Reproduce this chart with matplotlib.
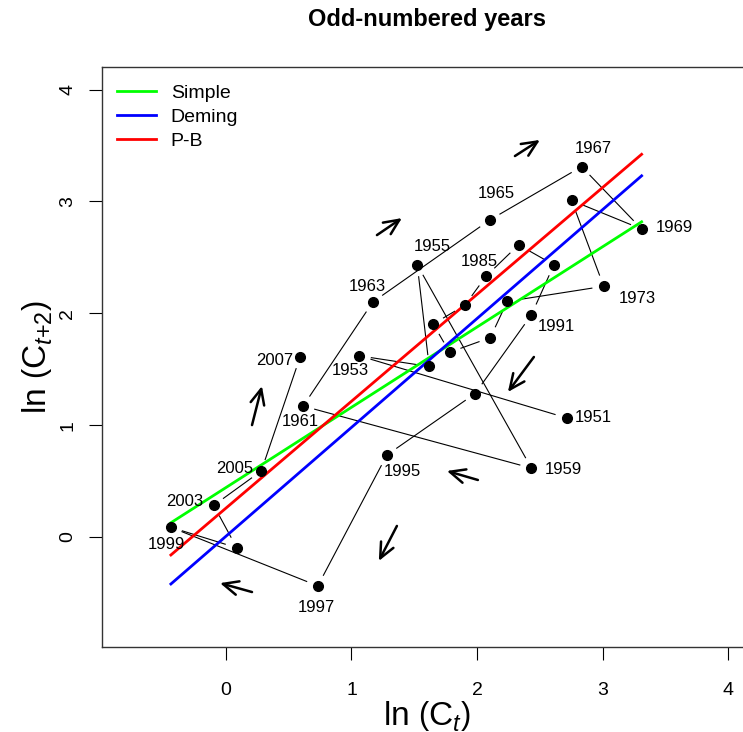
import numpy as np
import matplotlib
matplotlib.use('Agg')
import matplotlib.pyplot as plt
from matplotlib.lines import Line2D

plt.rcParams['font.family'] = ['Liberation Sans', 'DejaVu Sans']
plt.rcParams['mathtext.fontset'] = 'custom'
plt.rcParams['mathtext.rm'] = 'Liberation Sans'
plt.rcParams['mathtext.it'] = 'Liberation Sans:italic'
plt.rcParams['mathtext.bf'] = 'Liberation Sans:bold'

# ln(catch) in odd years; point i is (ln_catch[i], ln_catch[i+1])
ln_catch = [2.713, 1.064, 1.619, 1.524, 2.433, 0.615, 1.170, 2.100, 2.833, 3.311,
            2.753, 3.009, 2.241, 2.106, 1.782, 1.651, 1.904, 2.072, 2.331, 2.612,
            2.433, 1.985, 1.282, 0.732, -0.438, 0.086, -0.097, 0.282, 0.590, 1.606]

# which points carry a year label, and the label text
lab_idx = [0, 1, 3, 4, 5, 6, 7, 8, 9, 11, 17, 20, 22, 23, 24, 26, 27, 28]
lab_txt = ['1951', '1953', '1955', '1959', '1961', '1963', '1965', '1967', '1969',
           '1973', '1985', '1991', '1995', '1997', '1999', '2003', '2005', '2007']

# fitted lines: intercept + slope
fit_names = ['Simple', 'Deming', 'P-B']
fit_icpt = [0.441, 0.0054, 0.257]
fit_slope = [0.7178, 0.9736, 0.9557]
fit_cols = ['#00ff00', '#0000ff', '#ff0000']

# direction-of-travel arrows (data coords)
arr_x0 = [1.203, 2.302, 0.208, 2.453, 2.007, 1.362, 0.208]
arr_y0 = [2.699, 3.406, 1.000, 1.609, 0.509, 0.098, -0.493]
arr_x1 = [1.402, 2.501, 0.287, 2.246, 1.760, 1.218, -0.047]
arr_y1 = [2.851, 3.550, 1.349, 1.296, 0.590, -0.215, -0.413]

# label offsets from the point, pixels (right, down)
lab_off = [(26.6, -0.7), (-9.6, 15), (14.8, -18.3), (31.5, 1.5), (-2.7, 15.7),
           (-5.2, -15.9), (6.7, -26.8), (11.6, -17.7), (32.8, -1.5), (33.9, 12.6),
           (-6.3, -15.2), (24.5, 11.7), (15.8, 16.7), (-1, 21.8), (-4.7, 17.7),
           (-29.1, -4), (-26.7, -2.8), (-25.5, 3.5)]

x = np.array(ln_catch[:-1])
y = np.array(ln_catch[1:])

fig = plt.figure(figsize=(7.43, 7.32), dpi=100)
ax = fig.add_axes([0.1369, 0.1165, 0.8752, 0.7915])
ax.set_xlim(-0.989, 4.19)
ax.set_ylim(-0.982, 4.199)

# connecting segments with a gap round each point (like R type="b")
gap = 12.0
pix = ax.transData.transform(np.column_stack([x, y]))
inv = ax.transData.inverted()
for i in range(len(x) - 1):
    p0, p1 = pix[i], pix[i + 1]
    d = p1 - p0
    L = np.hypot(*d)
    if L <= 2 * gap:
        continue
    u = d / L
    a = inv.transform(p0 + u * gap)
    b = inv.transform(p1 - u * gap)
    ax.plot([a[0], b[0]], [a[1], b[1]], color='black', lw=0.8, zorder=2)

ax.plot(x, y, 'o', color='black', ms=7, zorder=4)

xs = np.array([x.min(), x.max()])
for name, b0, b1, c in zip(fit_names, fit_icpt, fit_slope, fit_cols):
    ax.plot(xs, b0 + b1 * xs, color=c, lw=2.0, zorder=3)

for i, t, (dx, dy) in zip(lab_idx, lab_txt, lab_off):
    ax.annotate(t, (x[i], y[i]), xytext=(dx * 0.72, -dy * 0.72), textcoords='offset points',
                ha='center', va='center', fontsize=12)

for a0, b0, a1, b1 in zip(arr_x0, arr_y0, arr_x1, arr_y1):
    ax.annotate('', xy=(a1, b1), xytext=(a0, b0),
                arrowprops=dict(arrowstyle='->,head_length=1.1,head_width=0.5',
                                lw=1.8, color='black', shrinkA=0, shrinkB=0))

handles = [Line2D([], [], color=c, lw=2.0) for c in fit_cols]
ax.legend(handles, fit_names, loc='upper left', frameon=False, fontsize=14,
          handlelength=2.0, handletextpad=0.75, labelspacing=0.32,
          bbox_to_anchor=(0.003, 0.994), borderaxespad=0.3, borderpad=0.4)

ax.set_xticks([0, 1, 2, 3, 4])
ax.set_yticks([0, 1, 2, 3, 4])
ax.tick_params(direction='out', length=9.4, width=0.8, labelsize=14, pad=9)
ax.tick_params(axis='x', pad=16)
for lab in ax.get_yticklabels():
    lab.set_rotation(90)
    lab.set_va('center')
for s in ax.spines.values():
    s.set_linewidth(1.0)
    s.set_color('#333333')

ax.set_xlabel(r'$\mathrm{ln}\ \left(\mathrm{C}_{t}\right)$', fontsize=24, labelpad=0)
ax.set_ylabel(r'$\mathrm{ln}\ \left(\mathrm{C}_{t\mathrm{+2}}\right)$', fontsize=24, labelpad=4)
ax.set_title('Odd-numbered years', fontsize=17, fontweight='bold', pad=30)

fig.savefig('out.png', dpi=100)
